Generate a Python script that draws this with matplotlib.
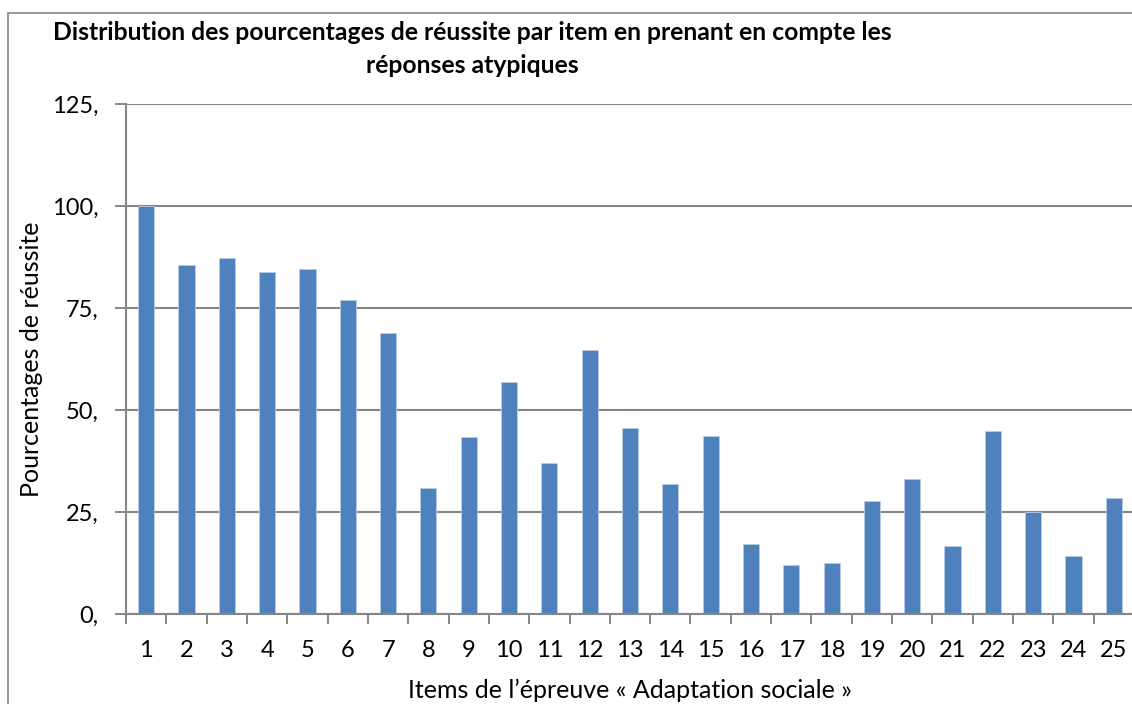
import matplotlib.pyplot as plt
from matplotlib.patches import Rectangle

# Data
items = list(range(1, 26))
reussite = [100.0, 85.5, 87.3, 83.8, 84.6, 77.0, 68.9, 30.8, 43.3, 56.9,
            37.0, 64.6, 45.7, 31.8, 43.6, 17.1, 11.9, 12.5, 27.6, 33.2,
            16.6, 44.8, 24.9, 14.1, 28.4]
y_ticks = [0, 25, 50, 75, 100, 125]
y_tick_labels = ["0,", "25,", "50,", "75,", "100,", "125,"]

title = ("Distribution des pourcentages de réussite par item en prenant en compte les\n"
         "réponses atypiques")
xlabel = "Items de l\u2019épreuve « Adaptation sociale »"
ylabel = "Pourcentages de réussite"

plt.rcParams['font.family'] = ['Lato', 'DejaVu Sans']
GRAY = "#868686"
BLUE = "#4F81BD"

fig = plt.figure(figsize=(11.32, 7.04), dpi=100)
W, H = 1132, 704

# outer chart frame (cut off at right/bottom like the reference)
fig.patches.append(Rectangle((8 / W, -0.1), 1.2, (1 - 13 / H) + 0.1,
                             transform=fig.transFigure, fill=False,
                             edgecolor=GRAY, linewidth=1.2))

ax = fig.add_axes([126 / W, 1 - 614 / H, (1134 - 126) / W, (614 - 104) / H])
ax.bar(items, reussite, width=0.4, color=BLUE, edgecolor="#B9CDE5",
       linewidth=0.6, zorder=3)

ax.set_xlim(0.5, 25.5)
ax.set_ylim(0, 125)

ax.set_yticks(y_ticks)
ax.set_yticklabels(y_tick_labels, fontsize=17)
ax.yaxis.grid(True, color=GRAY, linewidth=1.5, zorder=1)

# ticks between categories, labels at category centres
ax.set_xticks([i + 0.5 for i in range(0, 26)])
ax.set_xticklabels([])
ax.set_xticks(items, minor=True)
ax.set_xticklabels([str(i) for i in items], minor=True, fontsize=17)
ax.tick_params(axis='x', which='major', direction='out', length=7,
               width=1.4, color=GRAY)
ax.tick_params(axis='x', which='minor', length=0, pad=19)
ax.tick_params(axis='y', direction='out', length=8, width=1.4, color=GRAY, pad=12)

for side in ['top', 'right']:
    ax.spines[side].set_visible(False)
for side in ['left', 'bottom']:
    ax.spines[side].set_color(GRAY)
    ax.spines[side].set_linewidth(1.5)
ax.spines['bottom'].set_zorder(4)

fig.text(472 / W, 1 - 21 / H, title, ha='center', va='top', fontsize=17.8,
         fontweight='bold', linespacing=1.55)
fig.text(32 / W, 1 - 359 / H, ylabel, rotation=90, ha='center', va='center',
         fontsize=18)
fig.text(630 / W, 1 - 690 / H, xlabel, ha='center', va='center', fontsize=18)

fig.savefig("out.png", dpi=100)
